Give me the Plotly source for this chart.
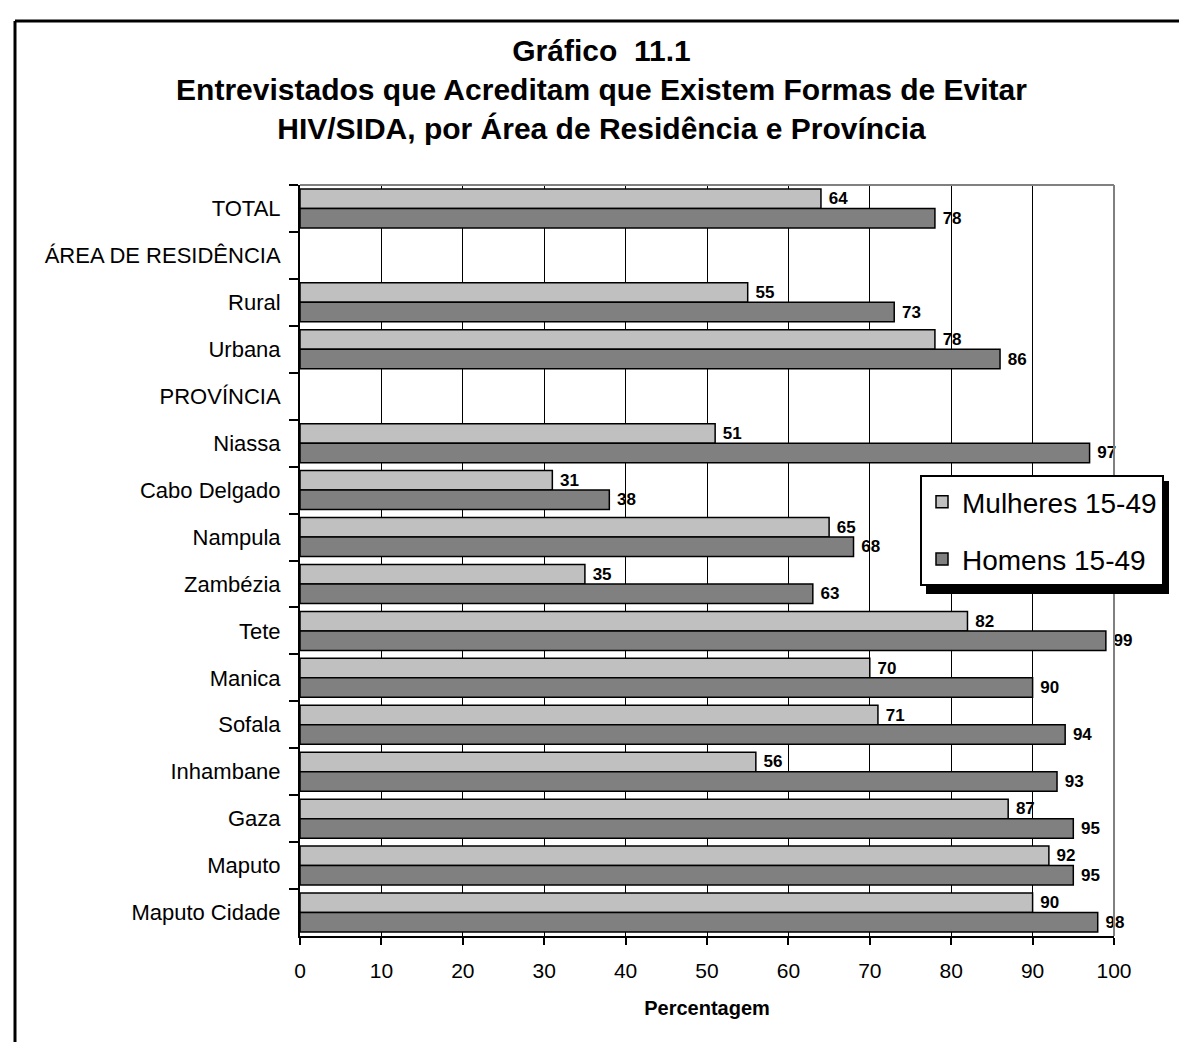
import plotly.graph_objects as go

categories = ["TOTAL", "ÁREA DE RESIDÊNCIA", "Rural", "Urbana", "PROVÍNCIA", "Niassa",
              "Cabo Delgado", "Nampula", "Zambézia", "Tete", "Manica", "Sofala",
              "Inhambane", "Gaza", "Maputo", "Maputo Cidade"]
mulheres = [64, None, 55, 78, None, 51, 31, 65, 35, 82, 70, 71, 56, 87, 92, 90]
homens = [78, None, 73, 86, None, 97, 38, 68, 63, 99, 90, 94, 93, 95, 95, 98]
x_ticks = [0, 10, 20, 30, 40, 50, 60, 70, 80, 90, 100]

FONT = "Arial, Liberation Sans, sans-serif"
W, H = 1187, 1042
L, R, T, B = 292, 1106, 177, 928


def px(x):
    return (x - L) / (R - L)


def py(y):
    return (B - y) / (B - T)


def lbl(v):
    return "" if v is None else " " + str(v)


fig = go.Figure()
fig.add_trace(go.Bar(
    name="Mulheres 15-49", y=categories, x=mulheres, orientation="h",
    marker=dict(color="#C0C0C0", line=dict(color="black", width=1.5)),
    text=[lbl(v) for v in mulheres], textposition="outside",
    textfont=dict(family=FONT, size=17, color="black", weight="bold"),
    constraintext="none", cliponaxis=False, legendgroup="m"))
fig.add_trace(go.Bar(
    name="Homens 15-49", y=categories, x=homens, orientation="h",
    marker=dict(color="#808080", line=dict(color="black", width=1.5)),
    text=[lbl(v) for v in homens], textposition="outside",
    textfont=dict(family=FONT, size=17, color="black", weight="bold"),
    constraintext="none", cliponaxis=False, legendgroup="h"))

shapes = [
    # plot frame top/right (gray)
    dict(type="line", xref="paper", yref="paper", x0=0, x1=1, y0=1, y1=1,
         line=dict(color="#808080", width=2), layer="above"),
    dict(type="line", xref="paper", yref="paper", x0=1, x1=1, y0=0, y1=1,
         line=dict(color="#808080", width=2), layer="above"),
    # outer figure border (top and left)
    dict(type="line", xref="paper", yref="paper", x0=px(7), x1=px(1200), y0=py(13), y1=py(13),
         line=dict(color="black", width=3)),
    dict(type="line", xref="paper", yref="paper", x0=px(7), x1=px(7), y0=py(13), y1=py(1060),
         line=dict(color="black", width=3)),
    # legend shadow
    dict(type="rect", xref="paper", yref="paper", x0=px(918), x1=px(1161), y0=py(473), y1=py(586),
         fillcolor="black", line=dict(width=0), layer="above"),
]

fig.update_layout(
    width=W, height=H,
    margin=dict(l=L, r=W - R, t=T, b=H - B, pad=0),
    paper_bgcolor="white", plot_bgcolor="white",
    barmode="group", bargap=0.17, bargroupgap=0,
    font=dict(family=FONT, color="black", size=21),
    title=dict(
        text="<b>Gráfico\u00a0 11.1</b><br><b>Entrevistados que Acreditam que Existem Formas de Evitar</b>"
             "<br><b>HIV/SIDA, por Área de Residência e Província</b>",
        x=0.5, xref="container", xanchor="center",
        y=1 - 53 / H, yref="container", yanchor="top",
        font=dict(family=FONT, size=30, color="black")),
    xaxis=dict(range=[0, 100], tickvals=x_ticks, ticktext=[str(v) for v in x_ticks],
               showgrid=True, gridcolor="black", gridwidth=1, zeroline=False,
               showline=True, linecolor="black", linewidth=2,
               ticks="outside", ticklen=7, tickwidth=2, tickcolor="black",
               tickfont=dict(size=21), ticklabelstandoff=8,
               title=dict(text="<b>Percentagem</b>", font=dict(size=20), standoff=20)),
    yaxis=dict(type="category", categoryorder="array", categoryarray=categories,
               autorange="reversed", showgrid=False, zeroline=False,
               showline=True, linecolor="black", linewidth=2,
               ticks="outside", ticklen=9, tickwidth=2, tickcolor="black",
               tickson="boundaries", tickfont=dict(size=22), ticklabelstandoff=13),
    legend=dict(x=px(912), y=py(467), xanchor="left", yanchor="top",
                bgcolor="white", bordercolor="black", borderwidth=2,
                font=dict(family=FONT, size=28, color="black"),
                tracegroupgap=18, itemclick=False),
    shapes=shapes,
)

fig.write_html("out.html")
